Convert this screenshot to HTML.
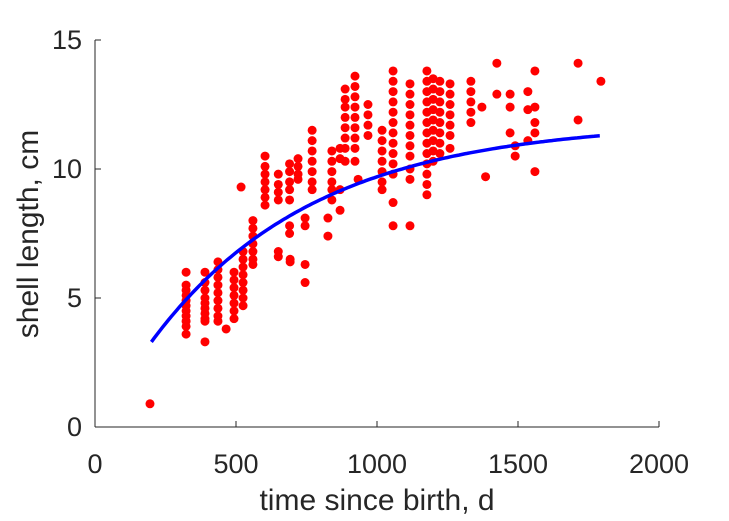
<!DOCTYPE html>
<html><head><meta charset="utf-8"><style>
body{margin:0;background:#fff}
svg{display:block;font-family:"Liberation Sans",sans-serif}
</style></head><body>
<svg id="chart" width="729" height="521" viewBox="0 0 729 521">
<g id="axes"></g>
<g id="dots"></g>
<g id="fit"></g>
</svg>
<script>
const xTicks=[0,500,1000,1500,2000];
const yTicks=[0,5,10,15];
const colDays=[195,323,390,436,465,493,518,525,560,603,650,690,692,720,745,770,826,840,869,887,922,933,968,1018,1057,1117,1177,1199,1223,1259,1333,1372,1385,1425,1472,1490,1535,1560,1713,1794];
const colVals=[
[0.9],
[6.0,5.5,5.3,5.1,4.9,4.7,4.5,4.3,4.1,3.9,3.6],
[6.0,5.6,5.3,5.0,4.8,4.6,4.4,4.2,4.1,3.3],
[6.4,6.1,5.8,5.5,5.2,4.9,4.6,4.3,4.1],
[3.8],
[6.0,5.7,5.4,5.1,4.8,4.5,4.2],
[9.3],
[6.8,6.5,6.2,5.9,5.6,5.3,5.0,4.7],
[8.0,7.7,7.4,7.1,6.8,6.5,6.3],
[10.5,10.1,9.8,9.5,9.2,8.9,8.6],
[9.8,9.4,9.1,8.8,6.8,6.6],
[10.2,9.9,9.5,9.2,8.8,7.8,7.5],
[6.5,6.4],
[10.4,10.1,9.8,9.6],
[8.1,7.8,6.3,5.6],
[11.5,11.1,10.7,10.3,9.9,9.5,9.2],
[8.1,7.4],
[10.7,10.3,9.9,9.5,9.2,8.8],
[10.8,10.4,9.2,8.4],
[13.1,12.7,12.4,12.0,11.6,11.2,10.8,10.3],
[13.6,13.2,12.8,12.4,12.0,11.6,11.2,10.8,10.3],
[9.6],
[12.5,12.1,11.7,11.3],
[11.5,11.1,10.7,10.3,9.9,9.5,9.2],
[13.8,13.4,13.0,12.6,12.2,11.8,11.4,11.0,10.6,10.2,9.8,8.7,7.8],
[13.3,12.9,12.5,12.1,11.7,11.3,10.9,10.5,10.0,9.6,7.8],
[13.8,13.4,13.0,12.6,12.2,11.8,11.4,11.0,10.6,10.2,9.8,9.4,9.0],
[13.5,13.1,12.7,12.3,11.9,11.5,11.1,10.7,10.3],
[13.4,13.0,12.6,12.2,11.8,11.4,11.0,10.6],
[13.3,12.9,12.5,12.1,11.7,11.3,10.8],
[13.4,13.0,12.6,12.2,11.8],
[12.4],
[9.7],
[14.1,12.9],
[12.9,12.4,11.4],
[10.9,10.5],
[13.0,12.3,11.1],
[13.8,12.4,11.8,11.4,9.9],
[14.1,11.9],
[13.4]];
const fitLinf=[11.83], fitK=[0.001733], fitStart=[200], fitEnd=[1790], fitL0=[3.3];
const X=d=>95+d*(659-95)/2000, Y=v=>427-v*(427-40)/15;
const NS="http://www.w3.org/2000/svg";
function mk(t,a,p){const e=document.createElementNS(NS,t);for(const k in a)e.setAttribute(k,a[k]);p.appendChild(e);return e;}
const ax=document.getElementById('axes');
let l=mk('line',{x1:95,y1:427,x2:659,y2:427,stroke:'#262626','stroke-width':1},ax);


l=mk('line',{x1:95,y1:40,x2:95,y2:427,stroke:'#262626','stroke-width':1},ax);


xTicks.forEach(t=>{mk('line',{x1:X(t),y1:427,x2:X(t),y2:421,stroke:'#262626'},ax);
const tx=mk('text',{x:X(t),y:473,'text-anchor':'middle','font-size':27,fill:'#262626'},ax);tx.textContent=t;

});
yTicks.forEach(t=>{mk('line',{x1:95,y1:Y(t),x2:101,y2:Y(t),stroke:'#262626'},ax);
const tx=mk('text',{x:82,y:Y(t)+9,'text-anchor':'end','font-size':27,fill:'#262626'},ax);tx.textContent=t;

});
let xl=mk('text',{x:377,y:510,'text-anchor':'middle','font-size':30,fill:'#262626'},ax);xl.textContent='time since birth, d';


let yl=mk('text',{x:0,y:0,'text-anchor':'middle','font-size':30,fill:'#262626',transform:'translate(38,234) rotate(-90)'},ax);yl.textContent='shell length, cm';


const dg=document.getElementById('dots');
colDays.forEach((d,i)=>colVals[i].forEach(v=>{const c=mk('circle',{cx:X(d),cy:Y(v),r:4.5,fill:'#ff0000'},dg);

}));
let pts=[];for(let t=fitStart[0];t<=fitEnd[0];t+=10){const v=fitLinf[0]-(fitLinf[0]-fitL0[0])*Math.exp(-fitK[0]*(t-fitStart[0]));pts.push(X(t).toFixed(1)+','+Y(v).toFixed(1));}
const pl=mk('polyline',{points:pts.join(' '),fill:'none',stroke:'#0000ff','stroke-width':3.5},document.getElementById('fit'));


</script>
</body></html>
